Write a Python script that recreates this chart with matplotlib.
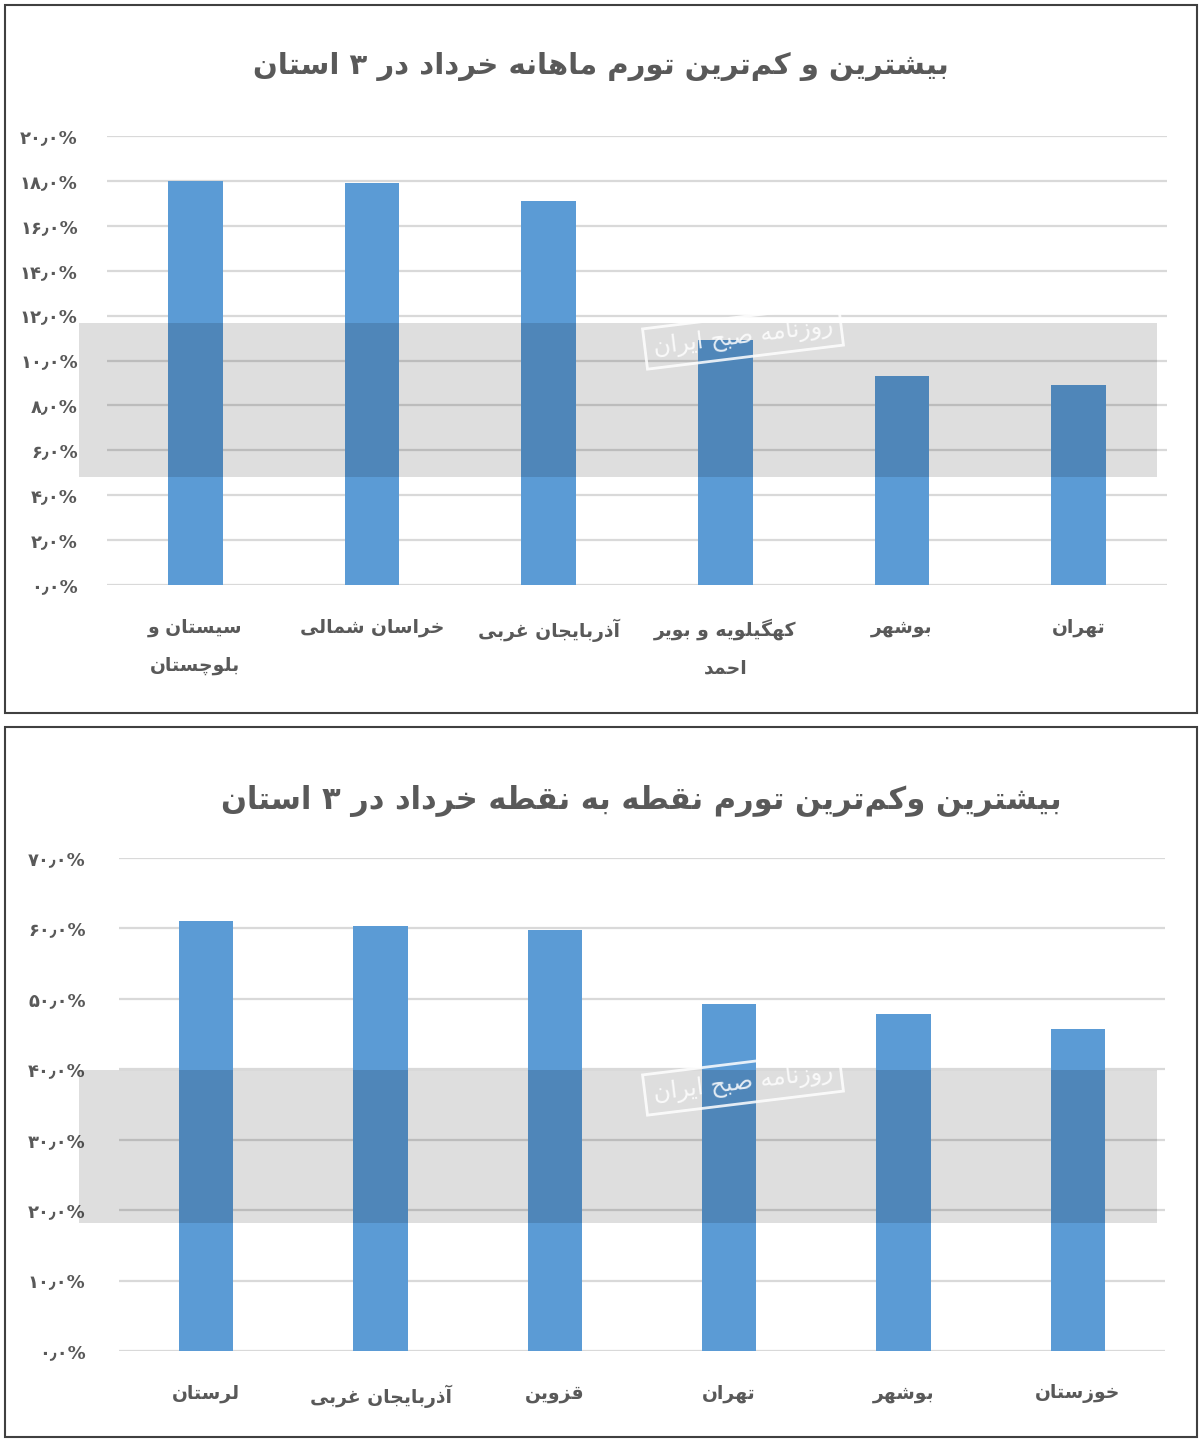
import numpy as np
import matplotlib
matplotlib.use('Agg')
import matplotlib.pyplot as plt
from matplotlib.patches import Rectangle
from matplotlib.ticker import FuncFormatter

plt.rcParams['font.family'] = ['DejaVu Sans']

# ---- data ----
title1 = 'بیشترین و کم\u200cترین تورم ماهانه خرداد در ۳ استان'
cats1 = ['سیستان و\nبلوچستان', 'خراسان شمالی', 'آذربایجان غربی',
         'کهگیلویه و بویر\nاحمد', 'بوشهر', 'تهران']
vals1 = [18.0, 17.9, 17.1, 10.9, 9.3, 8.9]

title2 = 'بیشترین وکم\u200cترین تورم نقطه به نقطه خرداد در ۳ استان'
cats2 = ['لرستان', 'آذربایجان غربی', 'قزوین', 'تهران', 'بوشهر', 'خوزستان']
vals2 = [61.0, 60.4, 59.8, 49.3, 47.8, 45.7]

watermark = 'روزنامه صبح ایران'

# ---- simple persian shaping (no arabic_reshaper here) ----
FORMS = {
    'ا': (0xFE8D, 0xFE8E, None, None), 'آ': (0xFE81, 0xFE82, None, None),
    'ب': (0xFE8F, 0xFE90, 0xFE91, 0xFE92), 'پ': (0xFB56, 0xFB57, 0xFB58, 0xFB59),
    'ت': (0xFE95, 0xFE96, 0xFE97, 0xFE98), 'ث': (0xFE99, 0xFE9A, 0xFE9B, 0xFE9C),
    'ج': (0xFE9D, 0xFE9E, 0xFE9F, 0xFEA0), 'چ': (0xFB7A, 0xFB7B, 0xFB7C, 0xFB7D),
    'ح': (0xFEA1, 0xFEA2, 0xFEA3, 0xFEA4), 'خ': (0xFEA5, 0xFEA6, 0xFEA7, 0xFEA8),
    'د': (0xFEA9, 0xFEAA, None, None), 'ذ': (0xFEAB, 0xFEAC, None, None),
    'ر': (0xFEAD, 0xFEAE, None, None), 'ز': (0xFEAF, 0xFEB0, None, None),
    'ژ': (0xFB8A, 0xFB8B, None, None),
    'س': (0xFEB1, 0xFEB2, 0xFEB3, 0xFEB4), 'ش': (0xFEB5, 0xFEB6, 0xFEB7, 0xFEB8),
    'ص': (0xFEB9, 0xFEBA, 0xFEBB, 0xFEBC), 'ض': (0xFEBD, 0xFEBE, 0xFEBF, 0xFEC0),
    'ط': (0xFEC1, 0xFEC2, 0xFEC3, 0xFEC4), 'ظ': (0xFEC5, 0xFEC6, 0xFEC7, 0xFEC8),
    'ع': (0xFEC9, 0xFECA, 0xFECB, 0xFECC), 'غ': (0xFECD, 0xFECE, 0xFECF, 0xFED0),
    'ف': (0xFED1, 0xFED2, 0xFED3, 0xFED4), 'ق': (0xFED5, 0xFED6, 0xFED7, 0xFED8),
    'ک': (0xFB8E, 0xFB8F, 0xFB90, 0xFB91), 'گ': (0xFB92, 0xFB93, 0xFB94, 0xFB95),
    'ل': (0xFEDD, 0xFEDE, 0xFEDF, 0xFEE0), 'م': (0xFEE1, 0xFEE2, 0xFEE3, 0xFEE4),
    'ن': (0xFEE5, 0xFEE6, 0xFEE7, 0xFEE8), 'ه': (0xFEE9, 0xFEEA, 0xFEEB, 0xFEEC),
    'و': (0xFEED, 0xFEEE, None, None), 'ی': (0xFBFC, 0xFBFD, 0xFBFE, 0xFBFF),
}


def dual(c):
    return c in FORMS and FORMS[c][2] is not None


def shape_line(s):
    out = []
    for i, c in enumerate(s):
        if c == '\u200c':
            continue
        if c not in FORMS:
            out.append(c)
            continue
        prev = s[i - 1] if i > 0 else ''
        nxt = s[i + 1] if i < len(s) - 1 else ''
        jp = dual(prev)
        jn = dual(c) and nxt in FORMS
        iso, fin, ini, med = FORMS[c]
        if jp and jn:
            f = med
        elif jp:
            f = fin
        elif jn:
            f = ini
        else:
            f = iso
        out.append(chr(f))
    return ''.join(reversed(out))


def fa(s):
    return '\n'.join(shape_line(l) for l in s.split('\n'))


PDIG = str.maketrans('0123456789.', '۰۱۲۳۴۵۶۷۸۹٫')


def pct(v, pos):
    return ('%.1f' % v).translate(PDIG) + '%'


# ---- figure ----
W, H = 1200, 1443
fig = plt.figure(figsize=(W / 100, H / 100), dpi=100)
gray = '#595959'
blue = '#5B9BD5'


def px_rect(x0, y0, x1, y1, **kw):
    r = Rectangle((x0 / W, 1 - y1 / H), (x1 - x0) / W, (y1 - y0) / H,
                  transform=fig.transFigure, **kw)
    fig.patches.append(r)


def draw_chart(rect, cats, vals, ymax, step, ypad, xpad):
    ax = fig.add_axes(rect)
    x = np.arange(len(cats))
    ax.bar(x, vals, width=0.31, color=blue, zorder=3)
    ax.set_xlim(-0.5, len(cats) - 0.5)
    ax.set_ylim(0, ymax)
    ax.set_yticks(np.arange(0, ymax + 0.1, step))
    ax.yaxis.set_major_formatter(FuncFormatter(pct))
    ax.set_xticks(x)
    ax.set_xticklabels([fa(c) for c in cats], fontsize=13.5, fontweight='bold',
                       color=gray, linespacing=2.2, va='top')
    for lab in ax.get_yticklabels():
        lab.set_fontsize(13)
        lab.set_fontweight('bold')
        lab.set_color(gray)
    ax.tick_params(axis='both', length=0)
    ax.tick_params(axis='y', pad=ypad)
    ax.tick_params(axis='x', pad=xpad)
    ax.yaxis.grid(True, color='#d9d9d9', lw=1.6, zorder=0)
    ax.set_axisbelow(True)
    for sp in ax.spines.values():
        sp.set_visible(False)
    return ax


# panel borders
px_rect(5, 5, 1197, 713, fill=False, edgecolor='#404040', lw=1.5)
px_rect(5, 727, 1197, 1437, fill=False, edgecolor='#404040', lw=1.5)

ax1 = draw_chart([107 / W, 1 - 585 / H, 1060 / W, 449 / H],
                 cats1, vals1, 20, 2, 21, 24)
ax2 = draw_chart([119 / W, 1 - 1351 / H, 1046 / W, 493 / H],
                 cats2, vals2, 70, 10, 24, 24)

fig.text(601 / W, 1 - 66 / H, fa(title1), ha='center', va='center',
         fontsize=21, fontweight='bold', color=gray)
fig.text(641 / W, 1 - 801 / H, fa(title2), ha='center', va='center',
         fontsize=22, fontweight='bold', color=gray)

# watermark bands
for y0, y1, yc in [(323, 477, 337), (1070, 1223, 1083)]:
    px_rect(79, y0, 1157, y1, facecolor='black', edgecolor='none', alpha=0.13, zorder=5)
    fig.text(743 / W, 1 - yc / H, fa(watermark), ha='center', va='center',
             rotation=7, fontsize=17, color='white', alpha=0.85, zorder=6,
             bbox=dict(boxstyle='square,pad=0.35', fc='none', ec='white', lw=2, alpha=0.85))

fig.savefig('out.png', dpi=100)
